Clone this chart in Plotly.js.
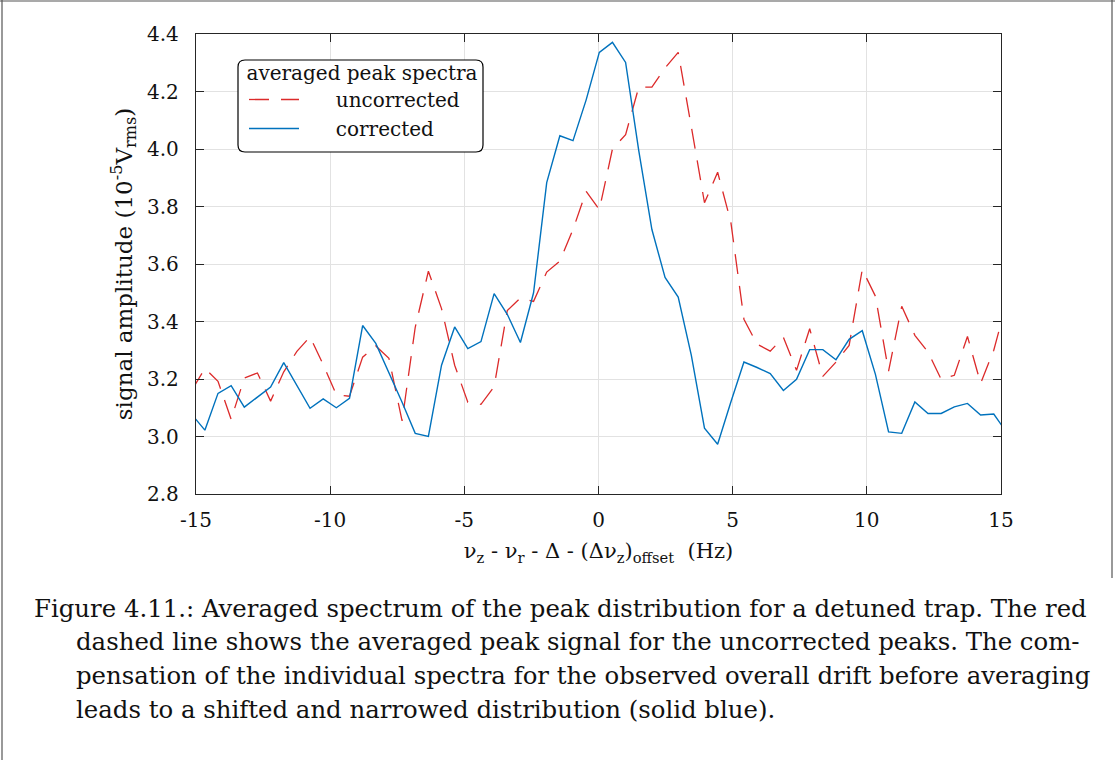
<!DOCTYPE html>
<html>
<head>
<meta charset="utf-8">
<script src="https://cdn.plot.ly/plotly-3.0.1.min.js"></script>
<style>
  html, body { margin: 0; padding: 0; background: #ffffff; }
  #chart { width: 1115px; height: 760px; }
</style>
</head>
<body>
<div id="chart"></div>
<script>
// Frequency offset of each averaged bin (Hz)
const freqOffset = [
  -15.16, -14.67, -14.18, -13.69, -13.20, -12.71, -12.22, -11.73, -11.24, -10.75,
  -10.26, -9.77, -9.28, -8.79, -8.30, -7.81, -7.32, -6.83, -6.34, -5.85,
  -5.36, -4.87, -4.38, -3.89, -3.40, -2.91, -2.42, -1.93, -1.44, -0.95,
  -0.46, 0.03, 0.52, 1.01, 1.50, 1.99, 2.48, 2.97, 3.46, 3.95,
  4.44, 4.93, 5.42, 5.91, 6.40, 6.89, 7.38, 7.87, 8.36, 8.85,
  9.34, 9.83, 10.32, 10.81, 11.30, 11.79, 12.28, 12.77, 13.26, 13.75,
  14.24, 14.73, 15.22
];

// Averaged peak amplitude without drift correction (1e-5 Vrms)
const uncorrected = [
  3.16, 3.237, 3.192, 3.06, 3.203, 3.221, 3.123, 3.225, 3.296, 3.347,
  3.25, 3.145, 3.14, 3.276, 3.315, 3.272, 3.054, 3.38, 3.575, 3.445,
  3.248, 3.119, 3.112, 3.173, 3.438, 3.482, 3.47, 3.572, 3.61, 3.72,
  3.853, 3.789, 4.0, 4.05, 4.215, 4.215, 4.282, 4.336, 4.077, 3.813,
  3.919, 3.747, 3.408, 3.321, 3.297, 3.345, 3.23, 3.375, 3.209, 3.259,
  3.317, 3.581, 3.488, 3.227, 3.453, 3.352, 3.294, 3.199, 3.213, 3.348,
  3.185, 3.30, 3.47
];

// Averaged peak amplitude after drift correction (1e-5 Vrms)
const corrected = [
  3.077, 3.022, 3.150, 3.177, 3.102, 3.138, 3.172, 3.257, 3.178, 3.098,
  3.131, 3.100, 3.133, 3.386, 3.324, 3.223, 3.119, 3.011, 3.000, 3.248,
  3.381, 3.306, 3.330, 3.497, 3.425, 3.327, 3.500, 3.883, 4.046, 4.029,
  4.171, 4.336, 4.371, 4.301, 3.994, 3.720, 3.553, 3.485, 3.282, 3.029,
  2.973, 3.119, 3.259, 3.240, 3.219, 3.160, 3.199, 3.302, 3.302, 3.267,
  3.338, 3.368, 3.216, 3.016, 3.011, 3.120, 3.080, 3.080, 3.103, 3.115,
  3.075, 3.078, 3.013
];

const xTicks = [-15, -10, -5, 0, 5, 10, 15];
const xTickText = ['-15', '-10', '-5', '0', '5', '10', '15'];
const yTicks = [2.8, 3.0, 3.2, 3.4, 3.6, 3.8, 4.0, 4.2, 4.4];
const yTickText = ['2.8', '3.0', '3.2', '3.4', '3.6', '3.8', '4.0', '4.2', '4.4'];

const captionLines = [
  'Figure 4.11.: Averaged spectrum of the peak distribution for a detuned trap. The red',
  'dashed line shows the averaged peak signal for the uncorrected peaks. The com-',
  'pensation of the individual spectra for the observed overall drift before averaging',
  'leads to a shifted and narrowed distribution (solid blue).'
];

const serif = 'DejaVu Serif, Liberation Serif, serif';
const capFont = 'DejaVu Serif, Liberation Serif, serif';

// Plot area in pixels (inside a 1115 x 760 canvas)
const W = 1115, H = 760;
const L = 196, R = 1001, T = 34, B = 494;
const px2x = p => (p - L) / (R - L);
const px2y = p => (B - p) / (B - T);

// a few non-breaking spaces push the legend labels away from their line samples
const gap = '\u00a0'.repeat(5);

const traces = [
  {
    x: freqOffset, y: uncorrected, type: 'scatter', mode: 'lines',
    name: gap + 'uncorrected',
    line: { color: '#dc2a2a', width: 1.3, dash: '20px,12px' }
  },
  {
    x: freqOffset, y: corrected, type: 'scatter', mode: 'lines',
    name: gap + 'corrected',
    line: { color: '#0072bd', width: 1.4 }
  }
];

// rounded rectangle behind the legend
function roundRect(x0, y0, x1, y1, r) {
  const ax = v => px2x(v), ay = v => px2y(v);
  return 'M' + ax(x0 + r) + ',' + ay(y0) +
    ' L' + ax(x1 - r) + ',' + ay(y0) +
    ' Q' + ax(x1) + ',' + ay(y0) + ' ' + ax(x1) + ',' + ay(y0 + r) +
    ' L' + ax(x1) + ',' + ay(y1 - r) +
    ' Q' + ax(x1) + ',' + ay(y1) + ' ' + ax(x1 - r) + ',' + ay(y1) +
    ' L' + ax(x0 + r) + ',' + ay(y1) +
    ' Q' + ax(x0) + ',' + ay(y1) + ' ' + ax(x0) + ',' + ay(y1 - r) +
    ' L' + ax(x0) + ',' + ay(y0 + r) +
    ' Q' + ax(x0) + ',' + ay(y0) + ' ' + ax(x0 + r) + ',' + ay(y0) + ' Z';
}

const shapes = [
  // page frame
  { type: 'line', xref: 'paper', yref: 'paper', x0: px2x(0), x1: px2x(W), y0: px2y(1), y1: px2y(1),
    line: { color: '#555555', width: 1.2 } },
  { type: 'line', xref: 'paper', yref: 'paper', x0: px2x(2), x1: px2x(2), y0: px2y(0), y1: px2y(H),
    line: { color: '#555555', width: 1.2 } },
  { type: 'line', xref: 'paper', yref: 'paper', x0: px2x(1112), x1: px2x(1112), y0: px2y(0), y1: px2y(578),
    line: { color: '#555555', width: 1.2 } },
  // legend box
  { type: 'path', xref: 'paper', yref: 'paper', path: roundRect(238, 60, 483, 152, 7),
    fillcolor: '#ffffff', line: { color: '#000000', width: 1.2 }, layer: 'above' }
];

const annotations = captionLines.map((t, i) => ({
  text: t, xref: 'paper', yref: 'paper',
  x: px2x(i === 0 ? 32 : 74), y: px2y(608 + i * 33.8),
  xanchor: 'left', yanchor: 'middle', showarrow: false,
  font: { family: capFont, size: 24.4, color: '#111111' }
}));

const layout = {
  width: W, height: H,
  margin: { l: L, r: W - R, t: T, b: H - B, pad: 0 },
  paper_bgcolor: '#ffffff', plot_bgcolor: '#ffffff',
  font: { family: serif, size: 20, color: '#111111' },
  showlegend: true,
  legend: {
    x: px2x(244), y: px2y(54), xanchor: 'left', yanchor: 'top',
    bgcolor: 'rgba(0,0,0,0)', borderwidth: 0,
    title: { text: 'averaged peak spectra', side: 'top center', font: { family: serif, size: 20 } },
    font: { family: serif, size: 20, color: '#111111' },
    itemwidth: 50
  },
  xaxis: {
    range: [-15, 15], tickvals: xTicks, ticktext: xTickText,
    ticks: 'inside', ticklen: 8, tickcolor: '#262626', tickwidth: 1,
    showline: true, linecolor: '#262626', linewidth: 1.2, mirror: 'ticks',
    showgrid: true, gridcolor: '#e2e2e2', gridwidth: 1, zeroline: false,
    tickfont: { family: serif, size: 20, color: '#111111' },
    ticklabelstandoff: 8,
    title: {
      text: 'ν<sub>z</sub> - ν<sub>r</sub> - Δ - (Δν<sub>z</sub>)<sub>offset</sub>\u00a0\u00a0(Hz)',
      font: { family: serif, size: 21, color: '#111111' }, standoff: 12
    }
  },
  yaxis: {
    range: [2.8, 4.4], tickvals: yTicks, ticktext: yTickText,
    ticks: 'inside', ticklen: 8, tickcolor: '#262626', tickwidth: 1,
    showline: true, linecolor: '#262626', linewidth: 1.2, mirror: 'ticks',
    showgrid: true, gridcolor: '#e2e2e2', gridwidth: 1, zeroline: false,
    tickfont: { family: serif, size: 20, color: '#111111' },
    ticklabelstandoff: 12,
    title: {
      text: 'signal amplitude (10<sup>-5</sup>V<sub>rms</sub>)',
      font: { family: serif, size: 23, color: '#111111' }, standoff: 8
    }
  },
  shapes: shapes,
  annotations: annotations
};

Plotly.newPlot('chart', traces, layout, { staticPlot: true, displayModeBar: false });
</script>
</body>
</html>
